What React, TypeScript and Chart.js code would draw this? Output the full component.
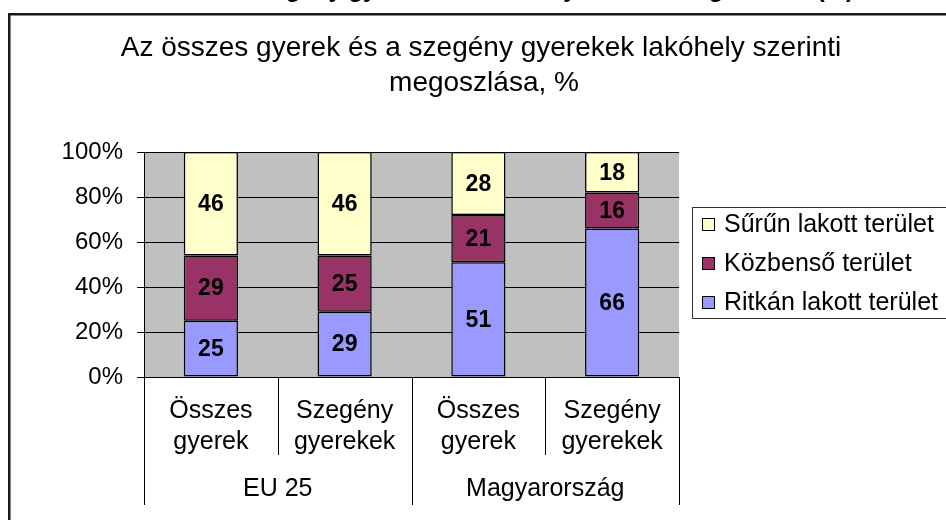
import React, { useEffect, useRef } from "react";
import { Chart, registerables } from "chart.js";

Chart.register(...registerables);

const categories: string[][] = [
  ["Összes", "gyerek"],
  ["Szegény", "gyerekek"],
  ["Összes", "gyerek"],
  ["Szegény", "gyerekek"],
];
const groups: string[] = ["EU 25", "Magyarország"];
const ritkan: number[] = [25, 29, 51, 66];
const kozbenso: number[] = [29, 25, 21, 16];
const surun: number[] = [46, 46, 28, 18];
const seriesNames: string[] = ["Ritkán lakott terület", "Közbenső terület", "Sűrűn lakott terület"];
const seriesColors: string[] = ["#9999FF", "#993366", "#FFFFCC"];
const yTicks: number[] = [0, 20, 40, 60, 80, 100];
const titleLines: string[] = ["Az összes gyerek és a szegény gyerekek lakóhely szerinti", "megoszlása, %"];
const topCutTitle = "Az összes és a szegény gyermekek lakóhely szerinti megoszlása (%)";

const FONT = '"Liberation Sans", Arial, sans-serif';

export default function App() {
  const ref = useRef<HTMLCanvasElement | null>(null);
  useEffect(() => {
    const canvas = ref.current!;
    const W = 946, H = 520;
    const plotLeft = 144, plotRight = 679, plotTop = 152, plotBottom = 377;

    const deco = {
      id: "deco",
      beforeDraw(chart: any) {
        const ctx = chart.ctx;
        const a = chart.chartArea;
        ctx.save();
        ctx.fillStyle = "#ffffff";
        ctx.fillRect(0, 0, W, H);
        ctx.fillStyle = "#C0C0C0";
        ctx.fillRect(a.left, a.top, a.right - a.left, a.bottom - a.top);
        ctx.restore();
      },
      afterDraw(chart: any) {
        const ctx = chart.ctx;
        const a = chart.chartArea;
        ctx.save();
        // frame
        ctx.strokeStyle = "#1a1a1a";
        ctx.lineWidth = 2.5;
        ctx.strokeRect(9.25, 14.25, 1000, 1000);
        // cut top title (only its lower edge is visible)
        ctx.fillStyle = "#000";
        ctx.font = `bold 24px ${FONT}`;
        ctx.textAlign = "right";
        ctx.textBaseline = "alphabetic";
        ctx.fillText(topCutTitle, 854, -3);
        // chart title
        ctx.font = `28px ${FONT}`;
        ctx.textAlign = "center";
        ctx.textBaseline = "middle";
        ctx.fillText(titleLines[0], 481, 48);
        ctx.fillText(titleLines[1], 484, 83);
        // data labels
        ctx.font = `bold 23px ${FONT}`;
        chart.data.datasets.forEach((ds: any, di: number) => {
          const meta = chart.getDatasetMeta(di);
          meta.data.forEach((el: any, i: number) => {
            const v = ds.data[i];
            ctx.fillText(String(v), el.x, (el.y + el.base) / 2 + 1);
          });
        });
        // category separators
        const n = categories.length;
        const cw = (a.right - a.left) / n;
        ctx.strokeStyle = "#000";
        ctx.lineWidth = 1;
        for (let i = 0; i <= n; i++) {
          const x = Math.round(a.left + i * cw) + 0.5;
          const outer = i % 2 === 0;
          ctx.beginPath();
          ctx.moveTo(x, a.bottom);
          ctx.lineTo(x, outer ? 505 : 455);
          ctx.stroke();
        }
        // group labels
        ctx.font = `25px ${FONT}`;
        groups.forEach((g, gi) => {
          const cx = a.left + (gi * 2 + 1) * cw;
          ctx.fillText(g, cx, 489);
        });
        // legend
        const lx = 692, ly = 207;
        ctx.strokeStyle = "#333";
        ctx.lineWidth = 1;
        ctx.strokeRect(lx + 0.5, ly + 0.5, 400, 111);
        ctx.textAlign = "left";
        ctx.font = `25px ${FONT}`;
        const order = [2, 1, 0];
        order.forEach((di, k) => {
          const cy = 224 + k * 39;
          ctx.fillStyle = seriesColors[di];
          ctx.fillRect(702, cy - 6, 12, 12);
          ctx.strokeStyle = "#000";
          ctx.strokeRect(702.5, cy - 5.5, 12, 12);
          ctx.fillStyle = "#000";
          ctx.fillText(chart.data.datasets[di].label, 724, cy + 1);
        });
        ctx.restore();
      },
    };

    const chart = new Chart(canvas, {
      type: "bar",
      data: {
        labels: categories,
        datasets: [
          { label: seriesNames[0], data: ritkan, backgroundColor: seriesColors[0] },
          { label: seriesNames[1], data: kozbenso, backgroundColor: seriesColors[1] },
          { label: seriesNames[2], data: surun, backgroundColor: seriesColors[2] },
        ].map((d) => ({
          ...d,
          borderColor: "#000",
          borderWidth: 1.5,
          borderSkipped: false,
          categoryPercentage: 1,
          barPercentage: 0.405,
        })),
      },
      options: {
        responsive: false,
        animation: false,
        devicePixelRatio: 1,
        layout: { padding: { left: 0, top: plotTop, right: W - plotRight, bottom: 40 } },
        plugins: { legend: { display: false }, title: { display: false }, tooltip: { enabled: false } },
        scales: {
          x: {
            stacked: true,
            grid: { display: false, drawTicks: false },
            border: { display: false },
            ticks: { color: "#000", font: { family: FONT, size: 25, lineHeight: 1.25 }, padding: 18, maxRotation: 0 },
            afterFit(scale: any) { scale.height = H - plotBottom - 40; },
          },
          y: {
            stacked: true,
            min: 0,
            max: 100,
            afterBuildTicks(scale: any) { scale.ticks = yTicks.map((v) => ({ value: v })); },
            ticks: { color: "#000", font: { family: FONT, size: 24 }, padding: 14, callback: (v: any) => v + "%" },
            grid: { color: "#000", lineWidth: 1, tickLength: 7 },
            border: { display: true, color: "#000", width: 1 },
            afterFit(scale: any) { scale.width = plotLeft; },
          },
        },
      },
      plugins: [deco],
    } as any);
    return () => chart.destroy();
  }, []);
  return (
    <div style={{ position: "fixed", left: 0, top: 0, width: 946, height: 520 }}>
      <canvas ref={ref} width={946} height={520} />
    </div>
  );
}
